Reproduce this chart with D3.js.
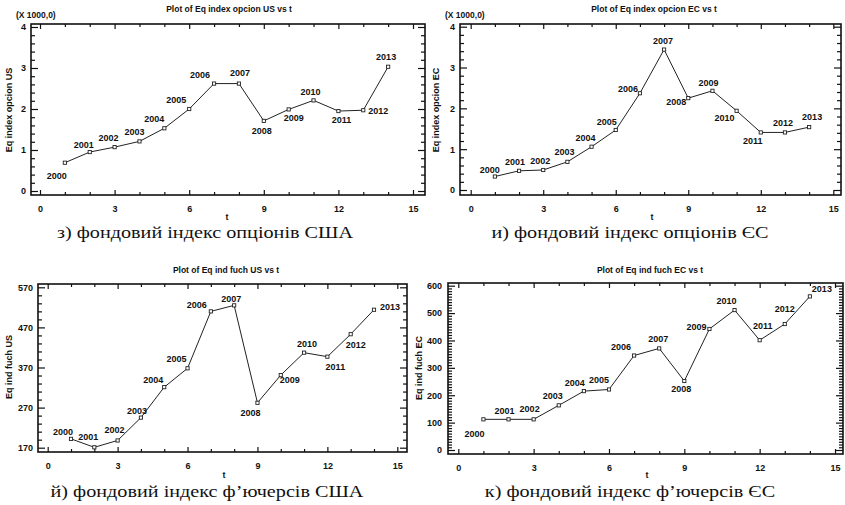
<!DOCTYPE html>
<html>
<head>
<meta charset="utf-8">
<script src="https://cdn.jsdelivr.net/npm/d3@7"></script>
<style>
  html, body { margin: 0; padding: 0; background: #fff; }
  svg { display: block; }
  .tk { font-family: "Liberation Sans", Arial, sans-serif; font-weight: bold; font-size: 9px; fill: #111; }
  .ttl { font-family: "Liberation Sans", Arial, sans-serif; font-weight: bold; font-size: 8.5px; fill: #111; }
  .cap { font-family: "Liberation Serif", "Times New Roman", Times, Tinos, "DejaVu Serif", "Noto Serif", serif; font-size: 16.5px; fill: #111; }
</style>
</head>
<body>
<svg id="chart" width="845" height="505"></svg>
<script>
// ---------------- DATA ----------------
const t = [1, 2, 3, 4, 5, 6, 7, 8, 9, 10, 11, 12, 13, 14];
const years = ["2000","2001","2002","2003","2004","2005","2006","2007","2008","2009","2010","2011","2012","2013"];

// values in thousands (X 1000,0)
const eqIndexOpcionUS = [0.69, 0.95, 1.07, 1.21, 1.53, 2.00, 2.62, 2.62, 1.71, 1.99, 2.21, 1.95, 1.97, 3.03];
const eqIndexOpcionEC = [0.33, 0.47, 0.49, 0.69, 1.06, 1.47, 2.37, 3.44, 2.25, 2.43, 1.94, 1.41, 1.41, 1.54];
const eqIndFuchUS = [192, 171, 188, 245, 321, 368, 510, 525, 282, 351, 407, 397, 453, 514];
const eqIndFuchEC = [112, 112, 112, 163, 215, 221, 345, 371, 252, 442, 511, 401, 460, 561];

const xTicks = [0, 3, 6, 9, 12, 15];
const yTicksOpcion = [0, 1, 2, 3, 4];
const yTicksFuchUS = [170, 270, 370, 470, 570];
const yTicksFuchEC = [0, 100, 200, 300, 400, 500, 600];

const titles = [
  "Plot of Eq index opcion US vs t",
  "Plot of Eq index opcion EC vs t",
  "Plot of Eq ind fuch US vs t",
  "Plot of Eq ind fuch EC vs t"
];
const yTitles = ["Eq index opcion US", "Eq index opcion EC", "Eq ind fuch US", "Eq ind fuch EC"];
const captions = [
  "з) фондовий індекс опціонів США",
  "и) фондовий індекс опціонів ЄС",
  "й) фондовий індекс ф’ючерсів США",
  "к) фондовий індекс ф’ючерсів ЄС"
];

// ---------------- LAYOUT ----------------
const panels = [
  { values: eqIndexOpcionUS, yTicks: yTicksOpcion, yMinorStep: 0.2, multiplier: true,
    xr: [40, 413], yd: [0, 4], yr: [191, 27], frame: [31, 425, 24, 195],
    titleXY: [229, 12], multXY: [16, 18], yLabX: 26, yTitleXY: [12, 110], tXY: [227, 220], capXY: [205, 238],
    lab: [[-8,13],[-6,-7],[-6,-9],[-5,-9],[-10,-9],[-13,-9],[-14,-9],[1,-11],[-2,10],[5,9],[-3,-8],[3,9],[15,1],[-2,-10]] },
  { values: eqIndexOpcionEC, yTicks: yTicksOpcion, yMinorStep: 0.2, multiplier: true,
    xr: [470.7, 833.3], yd: [0, 4], yr: [190, 26.7], frame: [460, 841, 24, 195],
    titleXY: [654, 12], multXY: [445, 18], yLabX: 455, yTitleXY: [439, 110], tXY: [652, 220], capXY: [630, 238],
    lab: [[-5,-7],[-4,-9],[-3,-9],[-3,-10],[-6,-9],[-9,-8],[-12,-4],[-1,-9],[-12,4],[-4,-8],[-12,7],[-8,9],[-2,-9],[3,-10]] },
  { values: eqIndFuchUS, yTicks: yTicksFuchUS, yMinorStep: 20, multiplier: false,
    xr: [47.7, 397.3], yd: [170, 570], yr: [447.7, 287.3], frame: [38, 407, 284, 452],
    titleXY: [226, 273], yLabX: 33, yTitleXY: [12, 367], tXY: [224, 478], capXY: [207, 497],
    lab: [[-8,-7],[-6,-10],[-3,-10],[-4,-7],[-11,-7],[-11,-9],[-14,-6],[-3,-6],[-7,10],[9,5],[3,-9],[8,10],[5,11],[16,-3]] },
  { values: eqIndFuchEC, yTicks: yTicksFuchEC, yMinorStep: 10, multiplier: false,
    xr: [458.3, 835], yd: [0, 600], yr: [450, 285.7], frame: [448, 843, 283, 454],
    titleXY: [650, 273], yLabX: 442, yTitleXY: [422, 368], tXY: [647, 478], capXY: [630, 497],
    lab: [[-9,15],[-4,-8],[-4,-10],[-6,-9],[-9,-8],[-10,-9],[-13,-9],[-1,-9],[-3,8],[-13,-2],[-8,-9],[3,-14],[0,-15],[12,-7]] }
];
// reference width of caption 1 in pixels, used to stretch all captions alike
const captionTargetWidth = 296;

const svg = d3.select("#chart");
const fmtInt = d3.format("d");
const capNodes = [];

panels.forEach((p, i) => {
  const g = svg.append("g");
  const x = d3.scaleLinear().domain([0, 15]).range(p.xr);
  const y = d3.scaleLinear().domain(p.yd).range(p.yr);
  const [fx0, fx1, fy0, fy1] = p.frame;

  const xMinor = d3.range(0, 16, 1).filter(v => !xTicks.includes(v));
  const yMinor = d3.range(p.yd[0], p.yd[1] + 1e-9, p.yMinorStep)
    .filter(v => !p.yTicks.some(tv => Math.abs(tv - v) < 1e-6));

  const left = g.append("g").attr("transform", `translate(${fx0},0)`);
  left.call(d3.axisLeft(y).tickValues(p.yTicks).tickFormat(fmtInt).tickSizeInner(-7).tickSizeOuter(0).tickPadding(0));
  left.select(".domain").remove();
  left.selectAll("text").attr("class", "tk").attr("x", p.yLabX - fx0).attr("text-anchor", "end");
  const leftMinor = g.append("g").attr("transform", `translate(${fx0},0)`);
  leftMinor.call(d3.axisLeft(y).tickValues(yMinor).tickSizeInner(-4).tickSizeOuter(0).tickFormat(""));
  leftMinor.select(".domain").remove();

  const right = g.append("g").attr("transform", `translate(${fx1},0)`);
  right.call(d3.axisRight(y).tickValues(p.yTicks).tickSizeInner(-7).tickSizeOuter(0).tickFormat(""));
  right.select(".domain").remove();
  const rightMinor = g.append("g").attr("transform", `translate(${fx1},0)`);
  rightMinor.call(d3.axisRight(y).tickValues(yMinor).tickSizeInner(-4).tickSizeOuter(0).tickFormat(""));
  rightMinor.select(".domain").remove();

  const bottom = g.append("g").attr("transform", `translate(0,${fy1})`);
  bottom.call(d3.axisBottom(x).tickValues(xTicks).tickFormat(fmtInt).tickSizeInner(-5).tickSizeOuter(0).tickPadding(11));
  bottom.select(".domain").remove();
  bottom.selectAll("text").attr("class", "tk");
  const bottomMinor = g.append("g").attr("transform", `translate(0,${fy1})`);
  bottomMinor.call(d3.axisBottom(x).tickValues(xMinor).tickSizeInner(-3).tickSizeOuter(0).tickFormat(""));
  bottomMinor.select(".domain").remove();

  const top = g.append("g").attr("transform", `translate(0,${fy0})`);
  top.call(d3.axisTop(x).tickValues(xTicks).tickSizeInner(-5).tickSizeOuter(0).tickFormat(""));
  top.select(".domain").remove();
  const topMinor = g.append("g").attr("transform", `translate(0,${fy0})`);
  topMinor.call(d3.axisTop(x).tickValues(xMinor).tickSizeInner(-3).tickSizeOuter(0).tickFormat(""));
  topMinor.select(".domain").remove();

  g.selectAll(".tick line").attr("stroke", "#111").attr("stroke-width", 1.2);

  g.append("rect")
    .attr("x", fx0).attr("y", fy0)
    .attr("width", fx1 - fx0).attr("height", fy1 - fy0)
    .attr("fill", "none").attr("stroke", "#111").attr("stroke-width", 1.6);

  const pts = t.map((tv, k) => [tv, p.values[k]]);
  g.append("path")
    .datum(pts)
    .attr("fill", "none").attr("stroke", "#222").attr("stroke-width", 1)
    .attr("d", d3.line().x(d => x(d[0])).y(d => y(d[1])));

  g.selectAll(".mk").data(pts).enter().append("rect")
    .attr("x", d => x(d[0]) - 1.6).attr("y", d => y(d[1]) - 1.6)
    .attr("width", 3.2).attr("height", 3.2)
    .attr("fill", "#fff").attr("stroke", "#222").attr("stroke-width", 0.9);

  g.selectAll(".pl").data(pts).enter().append("text")
    .attr("class", "tk")
    .attr("x", (d, k) => x(d[0]) + p.lab[k][0])
    .attr("y", (d, k) => y(d[1]) + p.lab[k][1])
    .attr("text-anchor", "middle").attr("dominant-baseline", "central")
    .text((d, k) => years[k]);

  g.append("text").attr("class", "ttl").attr("x", p.titleXY[0]).attr("y", p.titleXY[1])
    .attr("text-anchor", "middle").text(titles[i]);
  if (p.multiplier) {
    g.append("text").attr("class", "ttl").attr("x", p.multXY[0]).attr("y", p.multXY[1]).text("(X 1000,0)");
  }
  g.append("text").attr("class", "ttl")
    .attr("transform", `translate(${p.yTitleXY[0]},${p.yTitleXY[1]}) rotate(-90)`)
    .attr("text-anchor", "middle").style("font-size", "9px").text(yTitles[i]);
  g.append("text").attr("class", "tk").attr("x", p.tXY[0]).attr("y", p.tXY[1])
    .attr("text-anchor", "middle").text("t");
  const cap = g.append("text").attr("class", "cap")
    .attr("x", p.capXY[0]).attr("y", p.capXY[1])
    .attr("text-anchor", "middle")
    .text(captions[i]);
  capNodes.push(cap);
});

// stretch captions horizontally (same factor for all) so caption 1 has the reference width
const w0 = capNodes[0].node().getComputedTextLength();
if (w0 > 0) {
  const k = captionTargetWidth / w0;
  capNodes.forEach(c => {
    const w = c.node().getComputedTextLength();
    c.attr("textLength", (w * k).toFixed(1)).attr("lengthAdjust", "spacingAndGlyphs");
  });
}
</script>
</body>
</html>
